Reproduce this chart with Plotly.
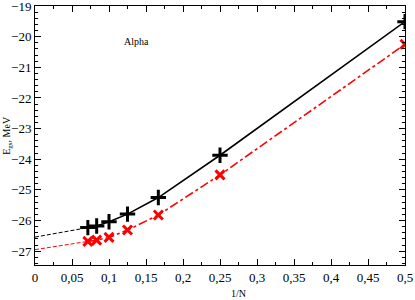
import plotly.graph_objects as go

# data
inv_n = [1/14, 1/12, 1/10, 1/8, 1/6, 1/4, 1/2]
egs_black = [-26.23, -26.18, -26.04, -25.79, -25.25, -23.87, -19.51]
egs_red = [-26.68, -26.64, -26.55, -26.31, -25.82, -24.51, -20.25]
extrap_x = [0.0, 1/14]
extrap_black = [-26.54, -26.23]
extrap_red = [-26.95, -26.68]

FONT = "Liberation Serif"

fig = go.Figure()
fig.add_trace(go.Scatter(x=extrap_x, y=extrap_black, mode="lines",
                         line=dict(color="black", width=1, dash="4px,2px"), showlegend=False))
fig.add_trace(go.Scatter(x=extrap_x, y=extrap_red, mode="lines",
                         line=dict(color="red", width=1, dash="4px,2px"), showlegend=False))
fig.add_trace(go.Scatter(x=inv_n, y=egs_black, mode="lines+markers",
                         line=dict(color="black", width=1.6),
                         marker=dict(symbol="cross-thin", size=11, line=dict(color="black", width=3)),
                         showlegend=False))
fig.add_trace(go.Scatter(x=inv_n, y=egs_red, mode="lines+markers",
                         line=dict(color="red", width=1.6, dash="dashdot"),
                         marker=dict(symbol="x-thin", size=9, line=dict(color="red", width=3)),
                         showlegend=False))

fig.add_annotation(x=0.137, y=-20.15, text="Alpha", showarrow=False,
                   font=dict(family=FONT, size=10, color="black"))
fig.add_annotation(xref="paper", yref="paper", x=0.55, y=-0.08, yanchor="top",
                   text="1/N", showarrow=False,
                   font=dict(family=FONT, size=10, color="black"))
fig.add_annotation(xref="paper", yref="paper", x=-0.075, y=0.5, xanchor="center",
                   text="E<sub>gs</sub>, MeV", textangle=-90, showarrow=False,
                   font=dict(family=FONT, size=10, color="black"))

axis_common = dict(showgrid=False, zeroline=False, showline=True, linecolor="black", linewidth=1,
                   mirror="ticks", ticks="inside", ticklen=6, tickcolor="black", automargin=False,
                   ticklabeloverflow="allow",
                   tickfont=dict(family=FONT, size=13, color="black"))

fig.update_xaxes(range=[0, 0.5], dtick=0.05, tick0=0,
                 minor=dict(dtick=0.025, ticks="inside", ticklen=3, tickcolor="black"),
                 **axis_common)
fig.update_yaxes(range=[-27.45, -19], dtick=1, tick0=-19,
                 minor=dict(dtick=0.2, ticks="inside", ticklen=3, tickcolor="black"),
                 **axis_common)

fig.update_layout(width=415, height=300, margin=dict(l=35, r=10, t=6, b=35),
                  plot_bgcolor="white", paper_bgcolor="white", separators=", ",
                  font=dict(family=FONT, color="black"))

fig.write_html("out.html", config={"displayModeBar": False},
               post_script="document.body.style.margin='0';document.body.style.overflow='hidden';")
